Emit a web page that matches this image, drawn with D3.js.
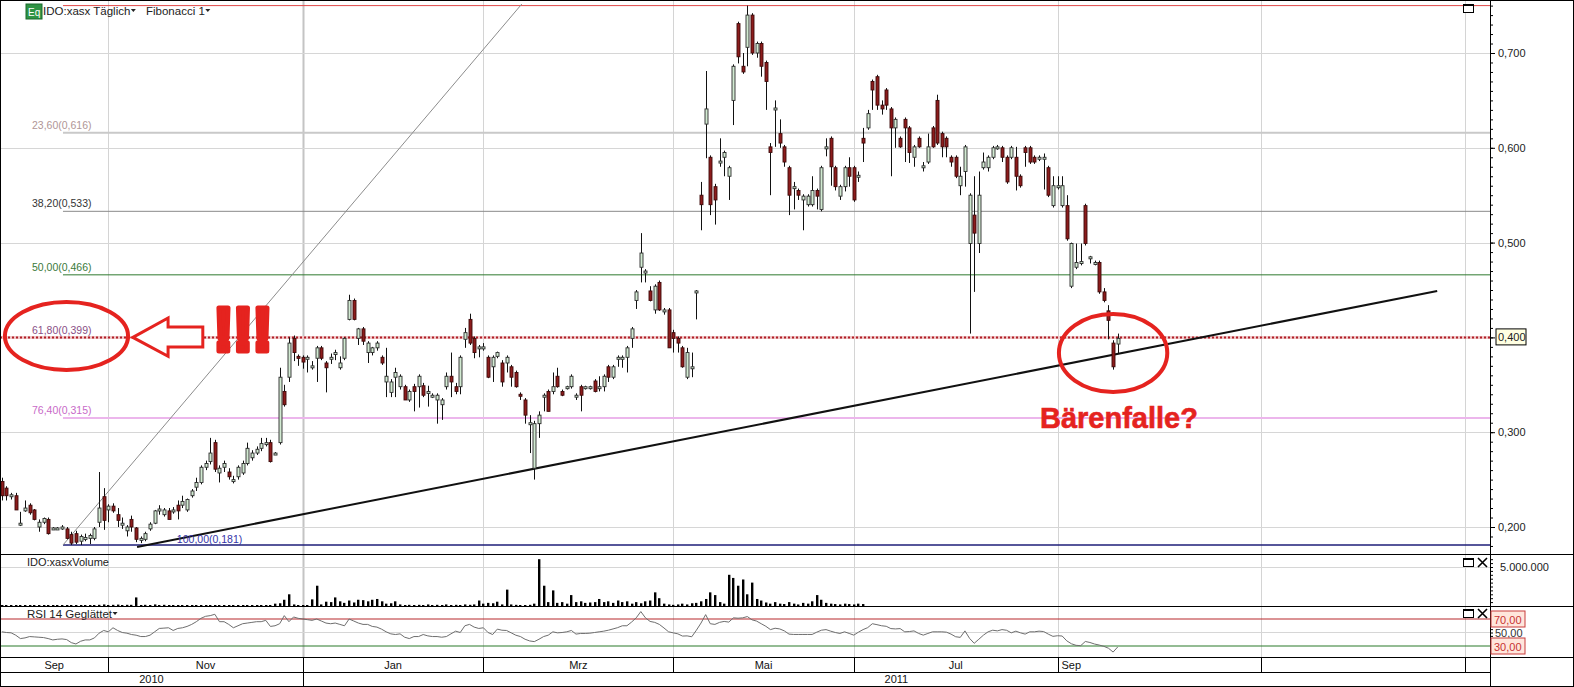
<!DOCTYPE html>
<html><head><meta charset="utf-8">
<script src="https://cdn.jsdelivr.net/npm/d3@7/dist/d3.min.js"></script>
<style>
body{margin:0;background:#fff}
svg{display:block}
text{font-family:"Liberation Sans",Arial,sans-serif}
</style>
</head><body>
<svg id="c" width="1574" height="687"></svg>
<script>
// ---------- DATA ----------
const openP = [.248,.241,.232,.233,.202,.217,.223,.218,.200,.205,
.208,.198,.199,.198,.198,.192,.193,.185,.188,.188,
.188,.205,.232,.218,.222,.213,.203,.196,.208,.199,
.187,.187,.198,.204,.218,.213,.217,.217,.223,.223,
.218,.233,.242,.247,.263,.269,.289,.257,.263,.258,
.249,.253,.257,.267,.273,.278,.283,.288,.289,.277,
.289,.343,.358,.399,.380,.379,.377,.368,.378,.389,
.373,.378,.383,.368,.378,.419,.439,.399,.409,.384,
.384,.389,.379,.353,.342,.358,.348,.348,.334,.348,
.348,.349,.342,.338,.334,.329,.348,.359,.348,.348,
.398,.419,.399,.389,.389,.379,.369,.380,.373,.373,
.369,.363,.340,.334,.309,.262,.309,.338,.343,.343,
.359,.343,.347,.348,.338,.348,.347,.347,.354,.347,
.348,.369,.358,.378,.378,.379,.399,.439,.474,.469,
.449,.429,.458,.428,.429,.405,.399,.389,.358,.368,
.448,.550,.625,.590,.559,.584,.590,.570,.650,.731,
.686,.706,.740,.700,.710,.690,.601,.640,.615,.601,
.579,.557,.555,.545,.540,.540,.555,.535,.600,.610,
.579,.549,.559,.579,.579,.569,.610,.621,.670,.675,
.645,.661,.641,.621,.610,.630,.621,.590,.610,.579,
.585,.621,.650,.615,.610,.590,.590,.560,.575,.499,
.529,.499,.579,.579,.590,.600,.600,.590,.590,.590,
.570,.600,.600,.590,.589,.589,.579,.539,.559,.539,
.539,.454,.474,.478,.539,.484,.478,.479,.448,.428,
.394,.393];
const highP = [.252,.243,.236,.236,.216,.228,.225,.219,.208,.210,
.210,.200,.200,.202,.200,.195,.196,.192,.193,.193,
.200,.258,.241,.224,.225,.220,.210,.202,.212,.200,
.190,.195,.205,.218,.223,.220,.220,.221,.228,.233,
.230,.240,.252,.265,.270,.294,.292,.265,.270,.262,
.254,.265,.270,.289,.281,.285,.294,.294,.292,.279,
.368,.350,.400,.402,.382,.381,.381,.375,.391,.391,
.375,.383,.387,.380,.400,.445,.441,.410,.411,.396,
.390,.396,.381,.389,.356,.368,.361,.350,.345,.351,
.361,.352,.349,.341,.341,.336,.363,.384,.352,.381,
.410,.425,.401,.392,.394,.381,.381,.385,.376,.381,
.371,.365,.342,.336,.318,.312,.322,.341,.345,.363,
.368,.345,.349,.361,.341,.350,.349,.349,.356,.359,
.361,.371,.371,.381,.381,.391,.411,.450,.510,.472,
.454,.456,.460,.431,.431,.408,.401,.391,.389,.384,
.450,.564,.681,.592,.562,.610,.597,.581,.688,.733,
.700,.750,.742,.712,.712,.692,.605,.650,.630,.603,
.581,.564,.557,.551,.551,.570,.557,.581,.610,.612,
.581,.561,.581,.590,.581,.575,.621,.640,.672,.677,
.650,.663,.643,.632,.612,.632,.623,.603,.612,.585,
.615,.623,.656,.617,.612,.592,.592,.580,.603,.552,
.570,.575,.595,.592,.602,.603,.602,.592,.602,.601,
.572,.602,.602,.592,.592,.594,.581,.570,.570,.570,
.550,.500,.499,.499,.541,.486,.481,.481,.452,.434,
.397,.404];
const lowP = [.228,.228,.229,.218,.201,.216,.213,.207,.195,.203,
.192,.197,.198,.197,.187,.181,.182,.181,.185,.182,
.186,.200,.197,.205,.215,.200,.198,.190,.195,.184,
.183,.185,.196,.203,.213,.211,.208,.214,.208,.220,
.216,.231,.238,.245,.260,.266,.258,.247,.258,.250,
.246,.250,.255,.265,.270,.276,.280,.285,.268,.276,
.287,.327,.353,.375,.370,.367,.363,.366,.353,.376,
.342,.372,.376,.366,.376,.418,.418,.392,.392,.373,
.381,.386,.371,.337,.337,.337,.345,.334,.332,.322,
.326,.337,.327,.336,.309,.313,.345,.337,.340,.340,
.389,.392,.378,.379,.386,.357,.353,.378,.348,.363,
.348,.347,.334,.309,.278,.250,.294,.322,.322,.340,
.347,.338,.345,.346,.334,.322,.345,.345,.342,.343,
.343,.353,.356,.369,.368,.363,.389,.430,.458,.458,
.438,.425,.428,.424,.389,.384,.384,.368,.356,.358,
.419,.513,.589,.529,.519,.580,.570,.545,.624,.689,
.678,.686,.698,.695,.675,.640,.550,.601,.600,.580,
.529,.535,.545,.513,.538,.538,.535,.533,.591,.560,
.555,.545,.554,.559,.543,.564,.585,.619,.640,.640,
.635,.640,.570,.600,.600,.585,.584,.580,.600,.575,
.583,.600,.603,.590,.590,.580,.568,.550,.559,.404,
.448,.489,.577,.575,.588,.598,.585,.562,.588,.555,
.558,.580,.583,.583,.586,.556,.548,.537,.556,.537,
.502,.452,.472,.476,.497,.478,.476,.446,.437,.398,
.366,.383];
const closeP = [.233,.233,.234,.218,.204,.220,.215,.208,.205,.209,
.193,.199,.199,.200,.188,.183,.184,.190,.189,.191,
.198,.220,.207,.222,.217,.207,.204,.200,.200,.187,
.188,.193,.203,.217,.219,.218,.208,.218,.217,.227,
.229,.238,.247,.263,.267,.278,.261,.262,.267,.253,
.250,.263,.267,.283,.278,.282,.288,.289,.269,.278,
.358,.329,.394,.384,.379,.374,.379,.370,.389,.378,
.368,.379,.384,.373,.399,.439,.419,.409,.396,.394,
.389,.394,.373,.359,.353,.363,.359,.334,.343,.343,
.359,.339,.343,.339,.339,.334,.359,.353,.343,.379,
.405,.394,.384,.390,.390,.358,.379,.384,.353,.379,
.358,.348,.339,.318,.310,.309,.318,.339,.322,.348,
.348,.339,.348,.359,.339,.339,.348,.348,.343,.348,
.359,.358,.369,.379,.379,.389,.409,.448,.489,.470,
.439,.454,.429,.429,.389,.399,.394,.369,.384,.369,
.449,.540,.641,.540,.545,.586,.595,.579,.686,.696,
.680,.740,.700,.710,.686,.670,.595,.642,.605,.585,
.550,.559,.550,.549,.549,.555,.549,.579,.601,.580,
.559,.559,.579,.570,.545,.571,.605,.636,.661,.645,
.641,.645,.621,.630,.601,.621,.595,.601,.601,.581,
.601,.601,.605,.601,.601,.585,.570,.570,.601,.550,
.510,.550,.585,.590,.600,.601,.590,.564,.600,.570,
.560,.595,.585,.585,.590,.590,.550,.560,.560,.560,
.504,.499,.479,.480,.499,.485,.479,.448,.439,.418,
.369,.399];
const rsi14 = [51,50,49.5,46,41,42,44,43.5,43,42.5,
41,39,40,40.5,39.5,35,33,37,39,39,
42,49,53,51,57,53,50,49,47,46,
44,44,46,51,56,56.5,57,53,56,57,
59,62,66,71,74,75,77,66,66,62,
57,60,63,64,65,66,66,68,59,60,
63,75,66,73,71,70,69,68,70,67,
64,63,64,62,60,70,67,64,62,62,
59,58,55,51,48,47,48,43,41,44,
44,47,45,44,44,43,44,48,52,50,
60,62,58,56,57,50,47,55,53.4,53,
49.5,46,44,40,37.5,36.5,40,44,46,51,
49.5,50,51,53,47.6,48.6,48.6,49,50,51,
52,53.4,55.3,57.2,60,60,65.4,71.7,81,71.7,
66.4,65,62,56.7,51,49.5,48,44.7,45,43.7,
53.4,64,76.5,63,62,65,66.4,65.4,71.7,71.2,
71.7,73.6,68.8,66.9,63,59.2,54.3,56.3,55.3,52.4,
47.6,47.1,47.1,47.1,47.1,47.1,50.5,53.4,54.3,52,
50,48.6,51,48.6,46.1,50.5,54.3,57.2,63,61.6,
60,59.2,55.8,55.3,55.8,51,51.4,52.4,48.6,46.1,
48.6,51,51,51,50.5,47.6,43.7,42.8,52.4,41.3,
34,40,46.1,51,53.4,52.4,54.3,53.3,49.5,52,
49.5,47.6,51,51,52,51.4,47.6,44.3,45.2,44.8,
37.6,33.3,31,30.5,36.7,35.2,32.9,31.4,29.5,26.7,
21,28.6];
// volume in millions of shares
const volumeM = [0.10,0.12,0.05,0.03,0.02,0.05,0.04,0.10,0.02,0.02,
0.02,0.03,0.02,0.02,0.02,0.03,0.08,0.08,0.03,0.03,
0.12,0.15,0.20,0.12,0.15,0.18,0.12,0.15,0.15,1.10,
0.10,0.15,0.10,0.20,0.10,0.15,0.05,0.10,0.03,0.05,
0.02,0.03,0.02,0.05,0.03,0.02,0.03,0.04,0.02,0.03,
0.02,0.05,0.03,0.02,0.04,0.03,0.05,0.04,0.10,0.30,
0.35,0.80,1.50,0.20,0.05,0.08,0.05,0.85,2.60,0.20,
0.55,0.50,1.10,0.60,0.40,0.70,0.45,0.80,0.75,0.60,
0.80,0.90,0.60,0.30,0.35,0.60,0.20,0.10,0.15,0.10,
0.15,0.10,0.20,0.10,0.15,0.10,0.20,0.10,0.15,0.10,
0.20,0.15,0.20,0.70,0.30,0.40,0.35,0.55,0.20,2.10,
0.20,0.15,0.10,0.10,0.15,0.30,6.00,2.60,0.50,2.00,
0.40,0.50,0.30,1.40,0.50,0.60,0.40,0.45,0.50,0.90,
0.50,0.60,0.40,0.70,0.50,0.60,0.30,0.50,0.35,0.60,
0.70,1.75,1.00,0.30,0.20,0.15,0.20,0.30,0.20,0.35,
0.40,0.60,0.90,1.75,1.40,0.50,0.30,4.00,3.60,2.60,
3.40,1.50,3.00,0.90,0.70,0.45,0.30,0.50,0.30,0.25,
0.50,0.30,0.20,0.40,0.30,0.60,1.40,0.80,0.40,0.30,
0.25,0.20,0.30,0.25,0.20,0.30,0.25];
const priceTicks = [0.2, 0.3, 0.5, 0.6, 0.7];
const markedPrice = 0.400;
const gridPrices = [0.2, 0.3, 0.4, 0.5, 0.6, 0.7];
// month boundaries (candle index of first trading day)
const monthStarts = [23, 65, 104, 145, 184, 228, 272, 316];
const monthLabels = ["Sep", "Nov", "Jan", "Mrz", "Mai", "Jul", "Sep"];
const yearStarts = [65];
const yearLabels = ["2010", "2011"];
const fibLevels = [
  {label:"0,00(0,750)",   v:0.750, line:"#e04848", w:1,   txt:null},
  {label:"23,60(0,616)",  v:0.616, line:"#c9c9c9", w:2,   txt:"#b09696"},
  {label:"38,20(0,533)",  v:0.533, line:"#8a8a8a", w:1,   txt:"#333333"},
  {label:"50,00(0,466)",  v:0.466, line:"#2f7a2f", w:1,   txt:"#3a7a3a"},
  {label:"61,80(0,399)",  v:0.399, line:"#d8aed0", w:1,   txt:"#8a4f86"},
  {label:"76,40(0,315)",  v:0.315, line:"#ecb6ec", w:2,   txt:"#c86ac8"},
  {label:"100,00(0,181)", v:0.181, line:"#1e1e78", w:1.5, txt:"#3434a8"}
];
const fibStartIdx = 13.2;
const fibFanLine = [{i:13.2, p:0.181}, {i:112.3, p:0.7517}];
const trendLine = [{i:29.2, p:0.179}, {i:310, p:0.449}];
const rsiLevels = [70, 50, 30];
const volTickM = 5;

// ---------- LAYOUT ----------
const P = {top:1, mainBot:554, volBot:606, rsiBot:657, monBot:672, yearBot:686, axisX:1490, right:1573};
const FONT = '"Liberation Sans",Arial,sans-serif';
const svg = d3.select('#c');
const N = openP.length;
const x = d3.scaleLinear().domain([-0.4, 321.4]).range([0, P.axisX]);
const y = d3.scaleLinear().domain([0.2, 0.7]).range([527, 53]);
const yV = d3.scaleLinear().domain([0, 5]).range([606, 567]);
const yR = d3.scaleLinear().domain([30, 70]).range([646, 619]);
const fmtP = d => d3.format('.3f')(d).replace('.', ',');

const defs = svg.append('defs');
defs.append('clipPath').attr('id','clipMain').append('rect').attr('x',0).attr('y',P.top).attr('width',P.axisX).attr('height',P.mainBot-P.top);
defs.append('clipPath').attr('id','clipVol').append('rect').attr('x',0).attr('y',P.mainBot).attr('width',P.axisX).attr('height',P.volBot-P.mainBot);
defs.append('clipPath').attr('id','clipRsi').append('rect').attr('x',0).attr('y',P.volBot).attr('width',P.axisX).attr('height',P.rsiBot-P.volBot);

// vertical grid lines
const vg = svg.append('g');
vg.selectAll('line').data(monthStarts).join('line')
  .attr('x1', d => Math.round(x(d))+0.5).attr('x2', d => Math.round(x(d))+0.5)
  .attr('y1', P.top).attr('y2', P.rsiBot)
  .attr('stroke', d => yearStarts.includes(d) ? '#c4c4c4' : '#d4d4d4')
  .attr('stroke-width', d => yearStarts.includes(d) ? 2 : 1);

// horizontal grid in main
const main = svg.append('g').attr('clip-path','url(#clipMain)');
main.selectAll('line.hg').data(gridPrices).join('line').attr('class','hg')
  .attr('x1',0).attr('x2',P.axisX)
  .attr('y1', d => Math.round(y(d))+0.5).attr('y2', d => Math.round(y(d))+0.5)
  .attr('stroke','#d6d6d6');

// fib lines
main.selectAll('line.fib').data(fibLevels).join('line').attr('class','fib')
  .attr('x1', x(fibStartIdx)).attr('x2', P.axisX)
  .attr('y1', d => y(d.v)).attr('y2', d => y(d.v))
  .attr('stroke', d => d.line).attr('stroke-width', d => d.w);
// red dotted marked line at 0,400
main.append('line').attr('x1',0).attr('x2',P.axisX)
  .attr('y1', y(markedPrice)).attr('y2', y(markedPrice))
  .attr('stroke','#f0c8c8').attr('stroke-width',3);
main.append('line').attr('x1',0).attr('x2',P.axisX)
  .attr('y1', y(markedPrice)).attr('y2', y(markedPrice))
  .attr('stroke','#b0202a').attr('stroke-width',2).attr('stroke-dasharray','2,2');

// fib labels
svg.append('g').selectAll('text').data(fibLevels.filter(d => d.txt)).join('text')
  .attr('x', d => d.v === 0.181 ? x(37.8) : 32)
  .attr('y', d => y(d.v) - (d.v === 0.181 ? 2 : 4))
  .attr('font-size', 10.5).attr('fill', d => d.txt).text(d => d.label);

// fan & trend lines
const ln = d3.line().x(d => x(d.i)).y(d => y(d.p));
main.append('path').attr('d', ln(fibFanLine)).attr('stroke','#8c8c8c').attr('stroke-width',1).attr('fill','none');
main.append('path').attr('d', ln(trendLine)).attr('stroke','#111').attr('stroke-width',2).attr('fill','none');

// candles
const candles = d3.range(N).map(i => ({i, o:openP[i], h:highP[i], l:lowP[i], c:closeP[i]}));
const cg = main.append('g');
cg.selectAll('line.wick').data(candles).join('line').attr('class','wick')
  .attr('x1', d => Math.round(x(d.i))+0.5).attr('x2', d => Math.round(x(d.i))+0.5)
  .attr('y1', d => y(d.h)).attr('y2', d => y(d.l))
  .attr('stroke','#111').attr('stroke-width',1);
cg.selectAll('rect').data(candles).join('rect')
  .attr('x', d => Math.round(x(d.i)) - 1)
  .attr('width', 3)
  .attr('y', d => Math.min(y(d.o), y(d.c)))
  .attr('height', d => Math.max(2, Math.abs(y(d.o) - y(d.c))))
  .attr('fill', d => d.c >= d.o ? '#d2ead2' : '#8c1c1c')
  .attr('stroke', d => d.c >= d.o ? '#2c2c2c' : '#3c0a0a')
  .attr('stroke-width', 0.9);

// ---------- VOLUME ----------
const vol = svg.append('g').attr('clip-path','url(#clipVol)');
vol.append('line').attr('x1',0).attr('x2',P.axisX).attr('y1', yV(volTickM)+0.5).attr('y2', yV(volTickM)+0.5).attr('stroke','#d6d6d6');
vol.selectAll('rect').data(volumeM).join('rect')
  .attr('x', (d,i) => Math.round(x(i)) - 1).attr('width', 2.4)
  .attr('y', d => Math.min(yV(d), yV(0) - 1)).attr('height', d => Math.max(1, yV(0) - yV(d)))
  .attr('fill','#000');

// ---------- RSI ----------
const rs = svg.append('g').attr('clip-path','url(#clipRsi)');
rs.append('line').attr('x1',0).attr('x2',P.axisX).attr('y1', yR(50)).attr('y2', yR(50)).attr('stroke','#d6d6d6');
rs.append('line').attr('x1',0).attr('x2',P.axisX).attr('y1', yR(70)).attr('y2', yR(70)).attr('stroke','#b8282c').attr('stroke-width',1.2);
rs.append('line').attr('x1',0).attr('x2',P.axisX).attr('y1', yR(30)).attr('y2', yR(30)).attr('stroke','#2a7a2a').attr('stroke-width',1.2);
rs.append('path').datum(rsi14).attr('d', d3.line().x((d,i) => x(i)).y(d => yR(d)))
  .attr('fill','none').attr('stroke','#6e6e6e').attr('stroke-width',1);

// ---------- FRAME / SEPARATORS ----------
const fr = svg.append('g').attr('stroke','#000').attr('stroke-width',1).attr('fill','none');
fr.append('rect').attr('x',0.5).attr('y',0.5).attr('width',P.right).attr('height',P.yearBot);
[P.mainBot, P.volBot, P.rsiBot].forEach(v => fr.append('line').attr('x1',0).attr('x2',P.right).attr('y1',v+0.5).attr('y2',v+0.5));
fr.append('line').attr('x1',0).attr('x2',P.axisX).attr('y1',P.monBot+0.5).attr('y2',P.monBot+0.5);
fr.append('line').attr('x1',P.axisX+0.5).attr('x2',P.axisX+0.5).attr('y1',0).attr('y2',P.yearBot);
// month / year dividers
fr.selectAll('line.md').data(monthStarts).join('line').attr('class','md')
  .attr('x1', d => Math.round(x(d))+0.5).attr('x2', d => Math.round(x(d))+0.5)
  .attr('y1', P.rsiBot).attr('y2', P.monBot);
fr.selectAll('line.yd').data(yearStarts).join('line').attr('class','yd')
  .attr('x1', d => Math.round(x(d))+0.5).attr('x2', d => Math.round(x(d))+0.5)
  .attr('y1', P.monBot).attr('y2', P.yearBot);

// month labels
const bins = [-0.4].concat(monthStarts);
const ml = svg.append('g').attr('font-size',11).attr('fill','#111');
monthLabels.forEach((m, k) => {
  const a = x(bins[k]), b = x(bins[k+1]);
  if (k === monthLabels.length - 1) {
    ml.append('text').attr('x', a + 4).attr('y', 669).text(m);
  } else {
    ml.append('text').attr('x', (a+b)/2).attr('y', 669).attr('text-anchor','middle').text(m);
  }
});
const yb = [-0.4].concat(yearStarts).concat([321.4]);
yearLabels.forEach((t, k) => {
  ml.append('text').attr('x', (x(yb[k]) + x(yb[k+1]))/2).attr('y', 683).attr('text-anchor','middle').text(t);
});

// ---------- RIGHT AXES ----------
const axMain = svg.append('g').attr('transform', `translate(${P.axisX},0)`);
axMain.call(d3.axisRight(y).tickValues(d3.range(18, 76).map(d => d/100)).tickSize(3).tickFormat(''))
  .call(g => g.select('.domain').remove());
axMain.append('g').call(d3.axisRight(y).tickValues(gridPrices).tickSize(5).tickFormat(d => priceTicks.includes(d) ? fmtP(d) : ''))
  .call(g => g.select('.domain').remove())
  .call(g => g.selectAll('text').attr('font-family', FONT).attr('font-size', 11).attr('fill','#222').attr('x', 8));
axMain.selectAll('line').attr('stroke','#000');
// boxed marked price
const bx = svg.append('g').attr('transform', `translate(${P.axisX+6},${y(markedPrice)})`);
bx.append('rect').attr('x',0).attr('y',-8.5).attr('width',30).attr('height',16).attr('fill','#ffffe2').attr('stroke','#000');
bx.append('text').attr('x',2).attr('y',4).attr('font-size',11).attr('fill','#222').text(fmtP(markedPrice));

// volume axis
const axV = svg.append('g').attr('transform', `translate(${P.axisX},0)`);
axV.call(d3.axisRight(yV).tickValues(d3.range(0, 13).map(d => d*0.5)).tickSize(3).tickFormat(''))
  .call(g => g.select('.domain').remove());
axV.selectAll('line').attr('stroke','#000');
svg.append('text').attr('x', P.axisX + 10).attr('y', yV(volTickM) + 4).attr('font-size', 11).attr('fill','#222')
  .text(d3.format(',')(volTickM*1e6).replace(/,/g,'.'));

// RSI axis
const axR = svg.append('g').attr('transform', `translate(${P.axisX},0)`);
axR.call(d3.axisRight(yR).tickValues([45, 50, 55]).tickSize(3).tickFormat(''))
  .call(g => g.select('.domain').remove());
axR.selectAll('line').attr('stroke','#000');
rsiLevels.forEach(v => {
  const g = svg.append('g').attr('transform', `translate(${P.axisX+1},${yR(v)})`);
  if (v !== 50) {
    g.append('rect').attr('x',0).attr('y',-8).attr('width',34).attr('height',16).attr('fill','#ffe6dc').attr('stroke','#c83c3c');
    g.append('text').attr('x',3).attr('y',4.5).attr('font-size',11).attr('fill','#c83232').text(d3.format('.2f')(v).replace('.',','));
  } else {
    g.append('text').attr('x',4).attr('y',4).attr('font-size',11).attr('fill','#333').text(d3.format('.2f')(v).replace('.',','));
  }
});

// ---------- HEADERS & ICONS ----------
const hd = svg.append('g');
hd.append('rect').attr('x',26).attr('y',4).attr('width',16).attr('height',15).attr('fill','#2f9444').attr('stroke','#1b6a2c');
hd.append('text').attr('x',28).attr('y',15.5).attr('font-size',10).attr('fill','#fff').text('Eq');
function labelWithArrow(txt, xx, yy) {
  const t = hd.append('text').attr('x', xx).attr('y', yy).attr('font-size', 11.5).attr('fill','#222').text(txt);
  const w = t.node().getComputedTextLength();
  hd.append('path').attr('d', `M${xx+w+0.5},${yy-6}h5l-2.5,3z`).attr('fill','#222');
}
labelWithArrow('IDO:xasx Täglich', 43, 15);
labelWithArrow('Fibonacci 1', 146, 15);
hd.append('text').attr('x',27).attr('y',566).attr('font-size',11).attr('fill','#222').text('IDO:xasxVolume');
labelWithArrow('RSI 14 Geglättet', 27, 618);

function icons(yy, withX) {
  hd.append('rect').attr('x',1463.5).attr('y',yy+0.5).attr('width',10).attr('height',8).attr('fill','#fff').attr('stroke','#000');
  hd.append('line').attr('x1',1463.5).attr('x2',1473.5).attr('y1',yy+1.5).attr('y2',yy+1.5).attr('stroke','#000');
  if (withX) {
    hd.append('path').attr('d', `M1478,${yy}L1487,${yy+9}M1487,${yy}L1478,${yy+9}`).attr('stroke','#000').attr('stroke-width',1.6);
  }
}
icons(4, false);
icons(558, true);
icons(609, true);

// ---------- ANNOTATIONS (in data space) ----------
const RED = '#e5231f';
const an = svg.append('g');
const ellipse = (ci, cp, rxIdx, ryP) => an.append('ellipse')
  .attr('cx', x(ci)).attr('cy', y(cp))
  .attr('rx', x(ci + rxIdx) - x(ci)).attr('ry', y(cp - ryP) - y(cp))
  .attr('fill','none').attr('stroke', RED).attr('stroke-width', 4);
ellipse(13.96, 0.4015, 13.3, 0.0359);
ellipse(240, 0.3835, 11.7, 0.0411);
// outline arrow pointing left
const arrowPts = [
  {i:28.3, p:0.400}, {i:35.9, p:0.4205}, {i:35.9, p:0.411}, {i:43.4, p:0.411},
  {i:43.4, p:0.390}, {i:35.9, p:0.390}, {i:35.9, p:0.380}
];
an.append('path').attr('d', d3.line().x(d => x(d.i)).y(d => y(d.p))(arrowPts) + 'Z')
  .attr('fill','#fff').attr('stroke', RED).attr('stroke-width', 3).attr('stroke-linejoin','miter');
an.append('text').attr('x', x(45.6)).attr('y', y(0.3846) - 1)
  .attr('font-size', 63).attr('font-weight','bold').attr('letter-spacing', -1.5)
  .attr('fill', RED).attr('stroke', RED).attr('stroke-width', 5).attr('stroke-linejoin','round').text('!!!');
an.append('text').attr('x', x(224.2)).attr('y', y(0.3044))
  .attr('font-size', 29).attr('font-weight','bold')
  .attr('fill', RED).attr('stroke', RED).attr('stroke-width', 0.6).text('Bärenfalle?');
</script>
</body></html>
